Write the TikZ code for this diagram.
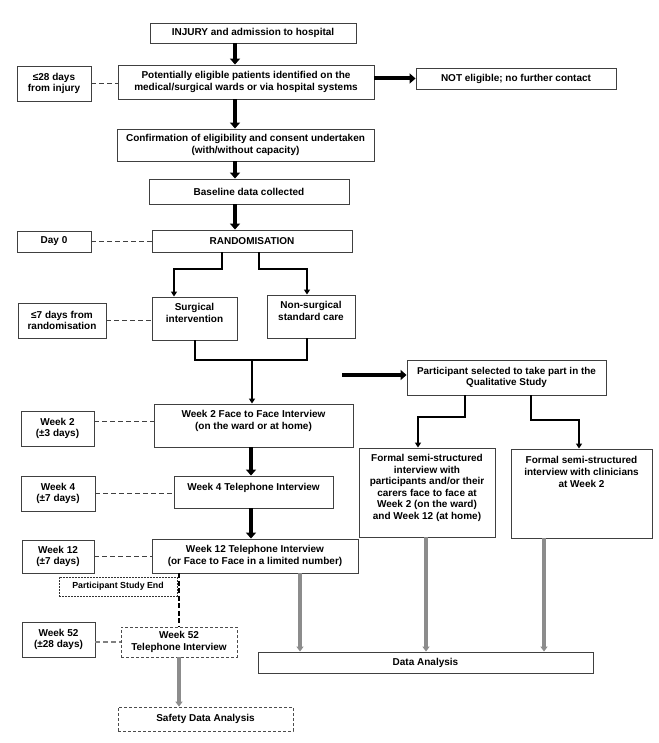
\documentclass[tikz,border=0pt]{standalone}
\usepackage{fontspec}
\setmainfont{Liberation Sans}
\usetikzlibrary{arrows.meta}
\begin{document}
\begin{tikzpicture}[x=1pt,y=-1pt,
  every node/.style={font=\bfseries\fontsize{10}{11.5}\selectfont, align=center, inner sep=0pt},
  box/.style={draw=black!75, line width=0.9pt, fill=white},
  dbox/.style={draw=black!70, line width=0.8pt, dash pattern=on 3pt off 2pt, fill=white},
  pbox/.style={draw=black!80, line width=0.7pt, dash pattern=on 2pt off 1pt, fill=white},
  txt/.style={},
  bigarrow/.style={line width=4pt, -{Triangle[width=10pt,length=6pt]}},
  thinarrow/.style={line width=1.7pt, -{Triangle[width=6pt,length=5pt]}},
  thinline/.style={line width=1.7pt},
  greyarrow/.style={line width=3.5pt, draw=black!45, -{Triangle[width=7pt,length=5pt]}, color=black!45},
  tie/.style={line width=0.8pt, draw=black!75, dash pattern=on 5pt off 3pt},
  greytie/.style={line width=1.2pt, draw=black!50, dash pattern=on 5pt off 3pt},
  enddash/.style={line width=2.2pt, draw=black, dash pattern=on 5pt off 2.5pt}
]
\useasboundingbox (0,0) rectangle (658,743);

% main column
\node[box, minimum width=206pt, minimum height=20pt] (inj) at (253,33) {INJURY and admission to hospital};
\node[box, minimum width=256pt, minimum height=34pt] (pot) at (246,82) {Potentially eligible patients identified on the\\medical/surgical wards or via hospital systems};
\node[box, minimum width=200pt, minimum height=21pt] (not) at (516,78.5) {NOT eligible; no further contact};
\node[box, minimum width=257pt, minimum height=32pt] (conf) at (245.5,145) {Confirmation of eligibility and consent undertaken\\(with/without capacity)};
\node[box, minimum width=200pt, minimum height=25pt] (base) at (249,191.5) {Baseline data collected};
\node[box, minimum width=200pt, minimum height=22pt] (rand) at (252,241) {RANDOMISATION};
\node[box, minimum width=85pt, minimum height=43pt] (surg) at (194.5,318.5) {};
\node[txt] (surgt) at (194.5,313) {Surgical\\intervention};
\node[box, minimum width=88pt, minimum height=43pt] (nons) at (311,316.5) {};
\node[txt] (nonst) at (311,311) {Non-surgical\\standard care};
\node[box, minimum width=199pt, minimum height=43pt] (w2) at (253.5,425.5) {};
\node[txt] (w2t) at (253.5,421) {Week 2 Face to Face Interview\\(on the ward or at home)};
\node[box, minimum width=159pt, minimum height=32pt] (w4) at (253.5,492) {};
\node[txt] (w4t) at (253.5,487.5) {Week 4 Telephone Interview};
\node[box, minimum width=206pt, minimum height=34pt] (w12) at (255,556) {Week 12 Telephone Interview\\(or Face to Face in a limited number)};
\node[dbox, minimum width=116pt, minimum height=30pt] (w52) at (179,642) {Week 52\\Telephone Interview};
\node[dbox, minimum width=175pt, minimum height=24pt] (safe) at (205.5,719) {Safety Data Analysis};
\node[pbox, minimum width=118pt, minimum height=19pt, font=\bfseries\fontsize{8.8}{10}\selectfont] (pse) at (118,586.5) {Participant Study End};

% qualitative
\node[box, minimum width=199pt, minimum height=35pt, font=\bfseries\fontsize{9.9}{11.5}\selectfont] (psel) at (506.5,377.5) {Participant selected to take part in the\\Qualitative Study};
\node[box, minimum width=136pt, minimum height=89pt] (fl) at (427,492.5) {};
\node[txt, font=\bfseries\fontsize{10}{11.6}\selectfont] (flt) at (427,488) {Formal semi-structured\\interview with\\participants and/or their\\carers face to face at\\Week 2 (on the ward)\\and Week 12 (at home)};
\node[box, minimum width=141pt, minimum height=89pt] (fr) at (581.5,493.5) {};
\node[txt, font=\bfseries\fontsize{10}{11.6}\selectfont] (frt) at (581.5,472) {Formal semi-structured\\interview with clinicians\\at Week 2};
\node[box, minimum width=335pt, minimum height=21pt] (da) at (425.5,662.5) {Data Analysis};

% time labels
\node[box, minimum width=74pt, minimum height=35pt] (l28) at (54,83.5) {\char"2264 28 days\\from injury};
\node[box, minimum width=74pt, minimum height=21pt] (l0) at (54,241.5) {Day 0};
\node[box, minimum width=88pt, minimum height=35pt] (l7) at (62,320.5) {\char"2264 7 days from\\randomisation};
\node[box, minimum width=73pt, minimum height=35pt] (lw2) at (57.5,428.5) {Week 2\\(\char"00B1 3 days)};
\node[box, minimum width=74pt, minimum height=35pt] (lw4) at (58,493.5) {Week 4\\(\char"00B1 7 days)};
\node[box, minimum width=72pt, minimum height=33pt] (lw12) at (58,556.5) {Week 12\\(\char"00B1 7 days)};
\node[box, minimum width=73pt, minimum height=35pt] (lw52) at (58.5,639.5) {Week 52\\(\char"00B1 28 days)};

% helper coordinates
\coordinate (ax) at (235,0);
\coordinate (r1) at (222,269);
\coordinate (r2) at (174,269);
\coordinate (r3) at (259,269);
\coordinate (r4) at (307,269);
\coordinate (m1) at (195,360);
\coordinate (m2) at (307,360);
\coordinate (mc) at (252,360);
\coordinate (qs) at (342,375);
\coordinate (q1) at (465,417);
\coordinate (q2) at (418,417);
\coordinate (q3) at (531,420);
\coordinate (q4) at (579,420);
\coordinate (ca) at (251,0);
\coordinate (g1) at (300,0);
\coordinate (g2) at (426,0);
\coordinate (g3) at (544,0);
\coordinate (dv) at (179,0);

% main arrows
\draw[bigarrow] (inj.south -| ax) -- (pot.north -| ax);
\draw[bigarrow] (pot.south -| ax) -- (conf.north -| ax);
\draw[bigarrow] (conf.south -| ax) -- (base.north -| ax);
\draw[bigarrow] (base.south -| ax) -- (rand.north -| ax);
\draw[bigarrow] (pot.east |- not.west) -- (not.west);
\draw[thinarrow] (rand.south -| r1) -- (r1) -- (r2) -- (surg.north -| r2);
\draw[thinarrow] (rand.south -| r3) -- (r3) -- (r4) -- (nons.north -| r4);
\draw[thinline] (surg.south -| m1) -- (m1) -- (m2) -- (nons.south -| m2);
\draw[thinarrow] (mc) -- (w2.north -| mc);
\draw[bigarrow] (qs) -- (psel.west |- qs);
\draw[thinarrow] (psel.south -| q1) -- (q1) -- (q2) -- (fl.north -| q2);
\draw[thinarrow] (psel.south -| q3) -- (q3) -- (q4) -- (fr.north -| q4);
\draw[bigarrow] (w2.south -| ca) -- (w4.north -| ca);
\draw[bigarrow] (w4.south -| ca) -- (w12.north -| ca);
\draw[greyarrow] (w12.south -| g1) -- (da.north -| g1);
\draw[greyarrow] (fl.south -| g2) -- (da.north -| g2);
\draw[greyarrow] (fr.south -| g3) -- (da.north -| g3);
\draw[enddash] (w12.south -| dv) -- (w52.north -| dv);
\draw[greyarrow] (w52.south) -- (safe.north -| w52.south);

% time ties
\draw[tie] (l28.east) -- (pot.west |- l28.east);
\draw[tie] (l0.east) -- (rand.west |- l0.east);
\draw[tie] (l7.east) -- (surg.west |- l7.east);
\draw[tie] (lw2.east |- w2t) -- (w2.west |- w2t);
\draw[tie] (lw4.east) -- (w4.west |- lw4.east);
\draw[tie] (lw12.east) -- (w12.west |- lw12.east);
\draw[greytie] (lw52.east |- w52.west) -- (w52.west);
\end{tikzpicture}
\end{document}
